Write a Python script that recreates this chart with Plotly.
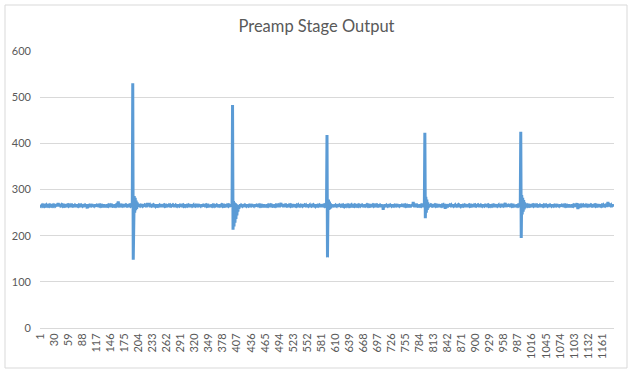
import plotly.graph_objects as go

# ---- data ----
# baseline samples: value = 260 + digit
baseline_rows = [
    "5462546584 4562548564 5264856452 6458465256 4856254658",
    "6452846564 5284656452 8465264856 4528465462 5846546285",
    "4658264856 5462846584 6254658462 5846256485 6452846564",
    "5264856452 8465264658 4625846564 5284656452 6485264856",
    "4562854658 2645846562 5846456285 4658265484 6254856462",
    "5846254658 4625846564 2856465284 6546285465 8462546584",
    "6452856462 5846456285 4658264856 5462846584 6254658462",
    "5264856452 6458465256 4856254658 6452846564 5284656452",
    "8465264856 4528465462 5846546285 4658264856 5462846584",
    "6254658462 5846256485 6452846564 5264856452 8465264658",
    "4625846564 5284656452 6485264856 4562854658 2645846562",
    "5846456285 4658265484 6254856462 5846254658 4625846564",
    "2856465284 6546285465 8462546584 5462546584 4562548564",
    "5264856452 6458465256 4856254658 6452846564 5284656452",
    "8465264856 4528465462 5846546285 4658264856 5462846584",
    "6254658462 5846256485 6452846564 5264856452 8465264658",
    "4625846564 5284656452 6485264856 4562854658 2645846562",
    "5846456285 4658265484 6254856462 5846254658 4625846564",
    "2856465284 6546285465 8462546584 6452856462 5846456285",
    "4658264856 5462846584 6254658462 5264856452 6458465256",
    "4856254658 6452846564 5284656452 8465264856 4528465462",
    "5846546285 4658264856 5462846584 6254658462 5846256485",
    "6452846564 5264856452 8465264658 4625846564 5284656452",
    "6485264856 4562854658 2645846562 58464",
]
baseline_offset = 260

# small bumps / dips (sample index -> value)
bump_index = [37, 97, 161, 223, 243, 497, 708, 770, 836, 960, 1108, 1110, 1172]
bump_value = [271, 259, 274, 271, 261, 271, 256, 273, 258, 271, 270, 258, 273]

# pulse events: start index and the samples from there
spike1_start = 189
spike1_vals = [266, 263, 530, 148, 270, 286, 250, 282, 255, 276, 258, 272, 262, 269, 263, 267]
spike2_start = 395
spike2_vals = [265, 268, 483, 213, 275, 220, 272, 228, 270, 236, 268, 244, 266, 252, 264, 258, 266]
spike3_start = 590
spike3_vals = [265, 262, 418, 153, 268, 278, 256, 274, 258, 270, 260, 268, 263]
spike4_start = 792
spike4_vals = [264, 266, 423, 238, 284, 250, 278, 256, 272, 260, 268, 263]
spike5_start = 990
spike5_vals = [266, 263, 425, 195, 288, 246, 282, 252, 277, 257, 272, 260, 268, 263]

tick_labels = ["1", "30", "59", "88", "117", "146", "175", "204", "233", "262",
               "291", "320", "349", "378", "407", "436", "465", "494", "523", "552",
               "581", "610", "639", "668", "697", "726", "755", "784", "813", "842",
               "871", "900", "929", "958", "987", "1016", "1045", "1074", "1103", "1132",
               "1161"]
y_ticks = [0, 100, 200, 300, 400, 500, 600]

# ---- assemble series ----
digits = "".join(baseline_rows).replace(" ", "")
values = [baseline_offset + int(c) for c in digits]
for i, v in zip(bump_index, bump_value):
    values[i] = v
for start, seg in [(spike1_start, spike1_vals), (spike2_start, spike2_vals),
                   (spike3_start, spike3_vals), (spike4_start, spike4_vals),
                   (spike5_start, spike5_vals)]:
    for k, v in enumerate(seg):
        values[start + k] = v
n = len(values)
x = list(range(1, n + 1))

text_color = "#595959"
grid_color = "#D9D9D9"
font_family = "Lato, 'Open Sans', sans-serif"

fig = go.Figure()
fig.add_trace(go.Scatter(
    x=x, y=values, mode="lines",
    line=dict(color="#5B9BD5", width=3),
    hoverinfo="y", showlegend=False,
))

L, R, T, B = 40, 19, 51, 44
W, H = 633, 372
pw, ph = W - L - R, H - T - B

fig.update_layout(
    width=W, height=H,
    margin=dict(l=L, r=R, t=T, b=B),
    paper_bgcolor="white", plot_bgcolor="white",
    font=dict(family=font_family, color=text_color),
    title=dict(text="Preamp Stage Output", x=0.5, xanchor="center",
               y=1 - 26 / H, yanchor="middle",
               font=dict(size=16.5, color=text_color, family=font_family)),
    xaxis=dict(
        range=[0.5, n + 0.5],
        tickmode="array",
        tickvals=[int(t) for t in tick_labels],
        ticktext=tick_labels,
        tickangle=-90,
        tickfont=dict(size=11, color=text_color),
        showgrid=False, zeroline=False,
        showline=True, linecolor=grid_color, linewidth=1,
        ticks="",
    ),
    yaxis=dict(
        range=[0, 600],
        tickmode="array", tickvals=y_ticks,
        tickfont=dict(size=11, color=text_color),
        showgrid=True, gridcolor=grid_color, gridwidth=1,
        zeroline=False, showline=False, ticks="",
        ticklabelstandoff=8,
    ),
    shapes=[dict(
        type="rect", xref="paper", yref="paper",
        x0=(5 - L) / pw, x1=(627 - L) / pw,
        y0=(H - B - 368) / ph, y1=(H - B - 5) / ph,
        line=dict(color=grid_color, width=1), fillcolor="rgba(0,0,0,0)",
        layer="below",
    )],
)

fig.write_html("out.html",
               config={"displayModeBar": False},
               post_script="document.body.style.margin='0';document.body.style.overflow='hidden';")
